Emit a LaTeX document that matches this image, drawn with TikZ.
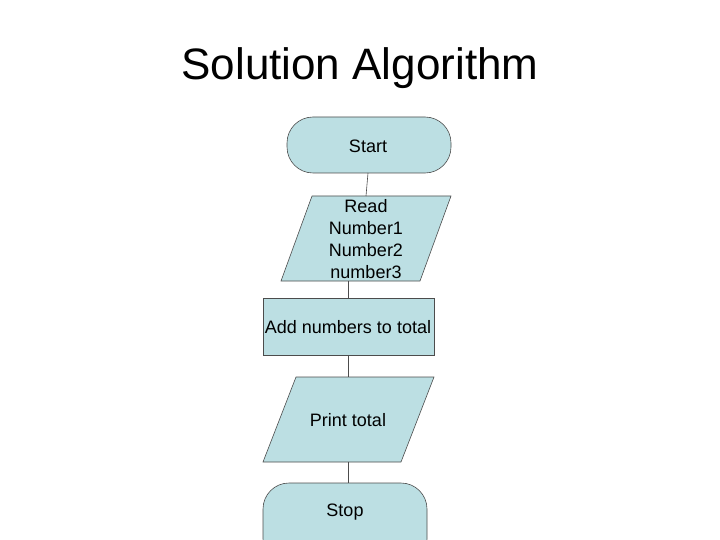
\documentclass[tikz,border=0pt]{standalone}
\usepackage{fontspec}
\setmainfont{Liberation Sans}
\begin{document}
\begin{tikzpicture}[x=1pt,y=-1pt,
  shp/.style={draw=black!70,fill=fillc,line width=0.6pt},
  lbl/.style={font=\fontsize{18pt}{22pt}\selectfont,align=center,inner sep=0pt},
  conn/.style={draw=black!70,line width=0.6pt}]
\definecolor{fillc}{HTML}{BCDFE3}
\useasboundingbox (0,0) rectangle (720,540);
\node[font=\fontsize{44pt}{48pt}\selectfont] (title) at (360,68) {Solution Algorithm};
% Start
\draw[shp,rounded corners=26pt] (287,117) rectangle (451,173);
\node[lbl] (start) at (368,146) {Start};
% Read
\draw[shp] (312,196) -- (451,196) -- (420,281) -- (281,281) -- cycle;
\node[lbl] (read) at (366,239) {Read\\Number1\\Number2\\number3};
% Add
\draw[shp] (263,298) rectangle (434,355);
\node[lbl] (add) at (348,327) {Add numbers to total};
% Print
\draw[shp] (296,377) -- (434,377) -- (401,462) -- (263,462) -- cycle;
\node[lbl] (print) at (348,420) {Print total};
% Stop
\draw[shp,rounded corners=26pt] (263,483) rectangle (427,565);
\node[lbl] (stop) at (345,512) {Stop};
% connectors
\coordinate (a1) at (368,173); \coordinate (a2) at (366,196);
\coordinate (b1) at (348,281); \coordinate (b2) at (348,298);
\coordinate (c1) at (348,355); \coordinate (c2) at (348,377);
\coordinate (d1) at (348,462); \coordinate (d2) at (348,483);
\draw[conn] (a1) -- (a2);
\draw[conn] (b1) -- (b2);
\draw[conn] (c1) -- (c2);
\draw[conn] (d1) -- (d2);
\end{tikzpicture}
\end{document}
